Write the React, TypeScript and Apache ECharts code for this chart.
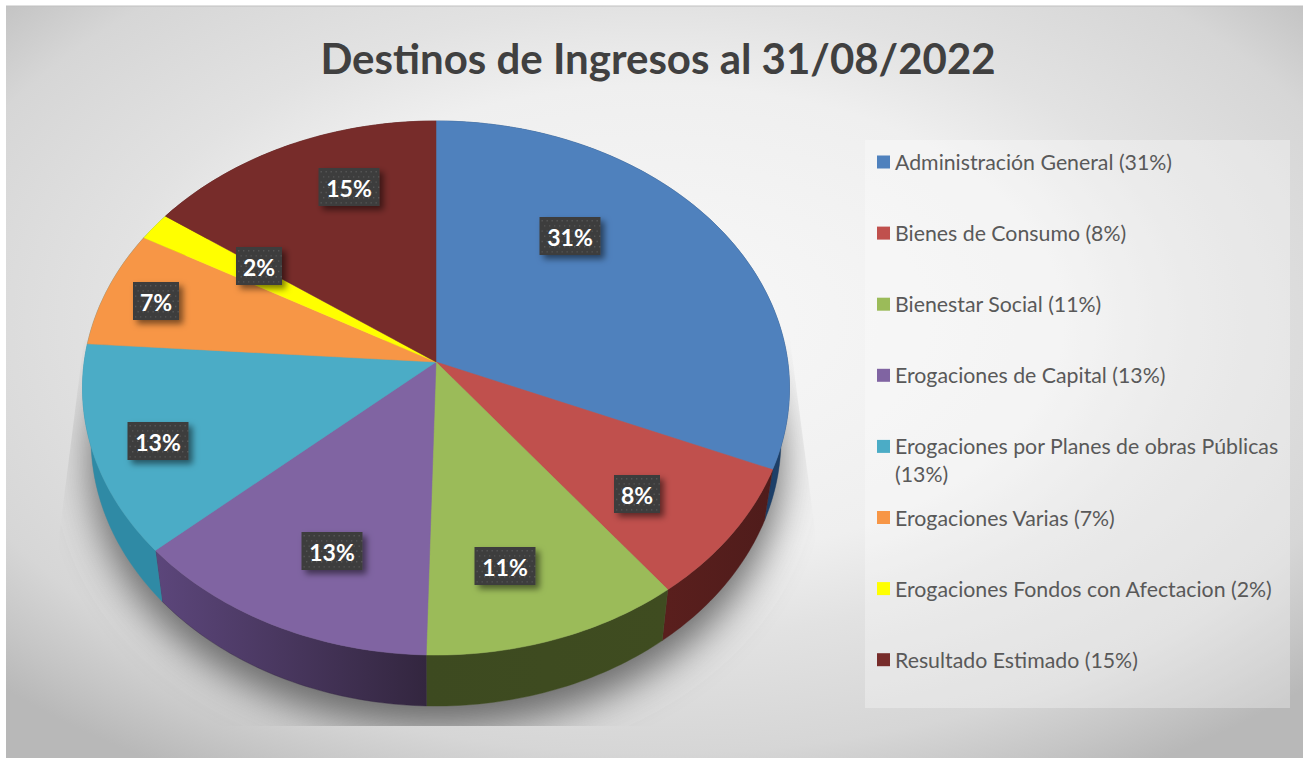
import React, { useEffect, useRef } from "react";
import * as echarts from "echarts";

const TITLE = "Destinos de Ingresos al 31/08/2022";
const CATEGORIES = [
  "Administración General",
  "Bienes de Consumo",
  "Bienestar Social",
  "Erogaciones de Capital",
  "Erogaciones por Planes de obras Públicas",
  "Erogaciones Varias",
  "Erogaciones Fondos con Afectacion",
  "Resultado Estimado",
];
const VALUES = [31.4, 8.2, 10.8, 13.0, 12.7, 7.1, 1.7, 15.1];
const PERCENT_LABELS = ["31%", "8%", "11%", "13%", "13%", "7%", "2%", "15%"];
const LEGEND_LINES = [
  ["Administración General (31%)"],
  ["Bienes de Consumo (8%)"],
  ["Bienestar Social (11%)"],
  ["Erogaciones de Capital (13%)"],
  ["Erogaciones por Planes de obras Públicas", "(13%)"],
  ["Erogaciones Varias (7%)"],
  ["Erogaciones Fondos con Afectacion (2%)"],
  ["Resultado Estimado (15%)"],
];

const TOP_COLORS = ["#4f81bd", "#c0504d", "#9bbb59", "#8064a2", "#4bacc6", "#f79646", "#ffff00", "#772c2a"];
const SIDE_COLORS = [
  ["#1d3f68", "#1d3f68"],
  ["#5a1f1d", "#4f1c1b"],
  ["#3d4a20", "#3f4c20"],
  ["#5c467b", "#33263f"],
  ["#2f8aa5", "#2f8aa5"],
  ["#2f8aa5", "#2f8aa5"],
  ["#2f8aa5", "#2f8aa5"],
  ["#4f1c1b", "#4f1c1b"],
];
const LABEL_CENTERS = [
  [570, 236], [637, 494], [505, 566], [332, 551],
  [158, 441], [156, 301], [259, 266], [349, 187],
];

const CX = 436, CY = 362, A = 351.8, B = 264.5, P = 0.0974;
const DEPTH = 51, BOTTOM_SCALE = 0.976;
const FONT = "Lato";

const total = VALUES.reduce((s, v) => s + v, 0);
function sliceRange(i: number): [number, number] {
  let s = 0;
  for (let k = 0; k < i; k++) s += VALUES[k];
  return [(s / total) * Math.PI * 2, ((s + VALUES[i]) / total) * Math.PI * 2];
}
function topPoint(t: number): [number, number] {
  const u = Math.sin(t), v = -Math.cos(t);
  const w = 1 - P * v;
  return [CX + (A * u) / w, CY + (B * v) / w];
}
function bottomPoint(t: number): [number, number] {
  const [x, y] = topPoint(t);
  return [CX + (x - CX) * BOTTOM_SCALE, y + DEPTH];
}
function arc(a: number, b: number, f: (t: number) => [number, number]) {
  const n = Math.max(2, Math.ceil(((b - a) * 180) / Math.PI));
  const out: [number, number][] = [];
  for (let i = 0; i <= n; i++) out.push(f(a + ((b - a) * i) / n));
  return out;
}

const renderShadow = (params: any) => {
  if (params.dataIndex !== 0) return { type: "group", children: [] };
  return {
    type: "polygon",
    shape: { points: arc(0, Math.PI * 2, bottomPoint) },
    style: {
      fill: "#8a8a8a",
      shadowBlur: 38,
      shadowColor: "#6a6a6a",
      shadowOffsetX: 0,
      shadowOffsetY: 22,
    },
    clipPath: {
      type: "polygon",
      shape: { points: [[84, 340], [59, 537], [59, 726], [815, 726], [815, 530], [790, 340]] },
    },
  };
};

const renderSide = (params: any, api: any) => {
  const i = params.dataIndex;
  const _v = api.value(0);
  const [a, b] = sliceRange(i);
  const pts = [...arc(a, b, topPoint), ...arc(a, b, bottomPoint).reverse()];
  const [c0, c1] = SIDE_COLORS[i];
  const fill = new echarts.graphic.LinearGradient(0, 0, 1, 0, [
    { offset: 0, color: c0 },
    { offset: 1, color: c1 },
  ]);
  return { type: "polygon", shape: { points: pts }, style: { fill, stroke: c1, lineWidth: 0.4 } };
};

const renderTop = (params: any) => {
  const i = params.dataIndex;
  const [a, b] = sliceRange(i);
  const pts = [[CX, CY], ...arc(a, b, topPoint)];
  return {
    type: "polygon",
    shape: { points: pts },
    style: { fill: TOP_COLORS[i], stroke: TOP_COLORS[i], lineWidth: 0.5 },
  };
};

const renderLabel = (params: any) => {
  const i = params.dataIndex;
  const [x, y] = LABEL_CENTERS[i];
  const text = PERCENT_LABELS[i];
  const w = text.length > 2 ? 61 : 46;
  const h = 38;
  const children: any[] = [
    {
      type: "rect",
      shape: { x: x - w / 2, y: y - h / 2, width: w, height: h },
      style: {
        fill: "#3c3c3c",
        shadowBlur: 6,
        shadowColor: "rgba(0,0,0,0.5)",
        shadowOffsetX: 4,
        shadowOffsetY: 4,
      },
    },
  ];
  for (let r = 0; r < 7; r++) {
    for (let c = 0; c < Math.floor(w / 5); c++) {
      children.push({
        type: "rect",
        shape: { x: x - w / 2 + 2 + c * 5 + (r % 2) * 2.5, y: y - h / 2 + 3 + r * 5.2, width: 1.4, height: 1.4 },
        style: { fill: "rgba(255,255,255,0.13)" },
      });
    }
  }
  children.push({
    type: "text",
    style: {
      x,
      y: y + 0.5,
      text,
      fill: "#ffffff",
      font: `bold 23px ${FONT}`,
      textAlign: "center",
      textVerticalAlign: "middle",
    },
  });
  return { type: "group", children };
};

const pieData = CATEGORIES.map((name, i) => ({ name, value: VALUES[i] }));

export default function App() {
  const ref = useRef<HTMLDivElement>(null);
  useEffect(() => {
    const chart = echarts.init(ref.current!, null, { renderer: "svg" });
    const legendItems: any[] = [];
    LEGEND_LINES.forEach((lines, i) => {
      const y = 162 + i * 71.1;
      legendItems.push({
        type: "rect",
        z: 5,
        shape: { x: 877, y: y - 6.5, width: 13, height: 13 },
        style: { fill: TOP_COLORS[i] },
      });
      lines.forEach((line, k) => {
        legendItems.push({
          type: "text",
          z: 5,
          style: {
            x: 895,
            y: y + k * 28,
            text: line,
            fill: "#595959",
            font: `21.3px ${FONT}`,
            textAlign: "left",
            textVerticalAlign: "middle",
          },
        });
      });
    });
    chart.setOption({
      animation: false,
      backgroundColor: "#ffffff",
      title: {
        text: TITLE,
        left: 653,
        top: 32,
        textAlign: "center",
        textStyle: { color: "#404040", fontFamily: FONT, fontWeight: "bold", fontSize: 42 },
      },
      graphic: [
        {
          type: "rect",
          z: -10,
          shape: { x: 6, y: 6, width: 1297, height: 752 },
          style: {
            fill: new echarts.graphic.RadialGradient(0.5, 0.42, 0.7, [
              { offset: 0, color: "#f8f8f8" },
              { offset: 0.45, color: "#efefef" },
              { offset: 0.6, color: "#e2e2e2" },
              { offset: 0.82, color: "#d6d6d6" },
              { offset: 0.92, color: "#c6c6c6" },
              { offset: 1, color: "#b8b8b8" },
            ]),
          },
        },
        { type: "line", z: -9, shape: { x1: 6, y1: 6, x2: 1303, y2: 6 }, style: { stroke: "#c0c0c0", lineWidth: 1 } },
        {
          type: "rect",
          z: -8,
          shape: { x: 865, y: 140, width: 425, height: 568 },
          style: { fill: "rgba(255,255,255,0.3)" },
        },
        ...legendItems,
      ],
      series: [
        { type: "custom", name: "sombra", coordinateSystem: "none", z: 1, clip: false, renderItem: renderShadow, data: pieData },
        { type: "custom", name: "lateral", coordinateSystem: "none", z: 2, renderItem: renderSide, data: pieData },
        { type: "custom", name: "Destinos de Ingresos", coordinateSystem: "none", z: 3, renderItem: renderTop, data: pieData },
        { type: "custom", name: "etiquetas", coordinateSystem: "none", z: 4, renderItem: renderLabel, data: pieData },
      ],
    });
    return () => chart.dispose();
  }, []);
  return <div ref={ref} style={{ position: "fixed", left: 0, top: 0, width: 1303, height: 758 }} />;
}
